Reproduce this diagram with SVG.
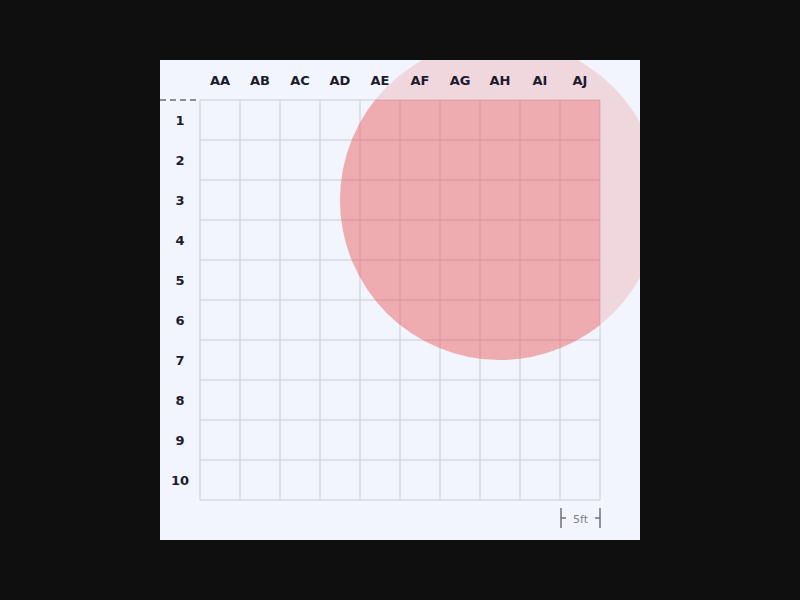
<svg xmlns="http://www.w3.org/2000/svg" width="800" height="600" viewBox="0 0 800 600">
<defs>
<style>
.lbl{font-family:"DejaVu Sans","Liberation Sans",sans-serif;font-weight:bold;font-size:13px;fill:#1c1c2c;text-anchor:middle;dominant-baseline:central}
.grid line{stroke:#c9cbd4;stroke-width:1}
.sc{stroke:#707078;stroke-width:1.5;fill:none}
</style>
<clipPath id="panelClip"><rect x="160" y="60" width="480" height="480"/></clipPath>
<clipPath id="gridClip"><rect x="200" y="100" width="400" height="400"/></clipPath>
</defs>
<rect width="800" height="600" fill="#0f0f0f"/>
<rect x="160" y="60" width="480" height="480" fill="#f2f5fd"/>
<g id="grid" class="grid">
<line x1="200" y1="100" x2="600" y2="100"/><line x1="200" y1="140" x2="600" y2="140"/><line x1="200" y1="180" x2="600" y2="180"/><line x1="200" y1="220" x2="600" y2="220"/><line x1="200" y1="260" x2="600" y2="260"/><line x1="200" y1="300" x2="600" y2="300"/><line x1="200" y1="340" x2="600" y2="340"/><line x1="200" y1="380" x2="600" y2="380"/><line x1="200" y1="420" x2="600" y2="420"/><line x1="200" y1="460" x2="600" y2="460"/><line x1="200" y1="500" x2="600" y2="500"/>
<line x1="200" y1="100" x2="200" y2="500"/><line x1="240" y1="100" x2="240" y2="500"/><line x1="280" y1="100" x2="280" y2="500"/><line x1="320" y1="100" x2="320" y2="500"/><line x1="360" y1="100" x2="360" y2="500"/><line x1="400" y1="100" x2="400" y2="500"/><line x1="440" y1="100" x2="440" y2="500"/><line x1="480" y1="100" x2="480" y2="500"/><line x1="520" y1="100" x2="520" y2="500"/><line x1="560" y1="100" x2="560" y2="500"/><line x1="600" y1="100" x2="600" y2="500"/>
</g>
<g id="aoe">
<circle cx="500" cy="200" r="160" fill="#ea6165" fill-opacity="0.2" clip-path="url(#panelClip)"/>
<circle cx="500" cy="200" r="160" fill="#ea6165" fill-opacity="0.375" clip-path="url(#gridClip)"/>
</g>
<line x1="160" y1="100" x2="200" y2="100" stroke="#6a6a72" stroke-width="1.5" stroke-dasharray="6,4"/>
<g id="cols">
<text class="lbl" x="220" y="80">AA</text><text class="lbl" x="260" y="80">AB</text><text class="lbl" x="300" y="80">AC</text><text class="lbl" x="340" y="80">AD</text><text class="lbl" x="380" y="80">AE</text><text class="lbl" x="420" y="80">AF</text><text class="lbl" x="460" y="80">AG</text><text class="lbl" x="500" y="80">AH</text><text class="lbl" x="540" y="80">AI</text><text class="lbl" x="580" y="80">AJ</text>
</g>
<g id="rows">
<text class="lbl" x="180" y="120">1</text><text class="lbl" x="180" y="160">2</text><text class="lbl" x="180" y="200">3</text><text class="lbl" x="180" y="240">4</text><text class="lbl" x="180" y="280">5</text><text class="lbl" x="180" y="320">6</text><text class="lbl" x="180" y="360">7</text><text class="lbl" x="180" y="400">8</text><text class="lbl" x="180" y="440">9</text><text class="lbl" x="180" y="480">10</text>
</g>
<g id="scale">
<path class="sc" d="M561 508V528M600 508V528M561 518H566M595 518H600"/>
<text x="580.5" y="519" font-family="DejaVu Sans,sans-serif" font-size="11" fill="#808088" text-anchor="middle" dominant-baseline="central">5ft</text>
</g>
</svg>
